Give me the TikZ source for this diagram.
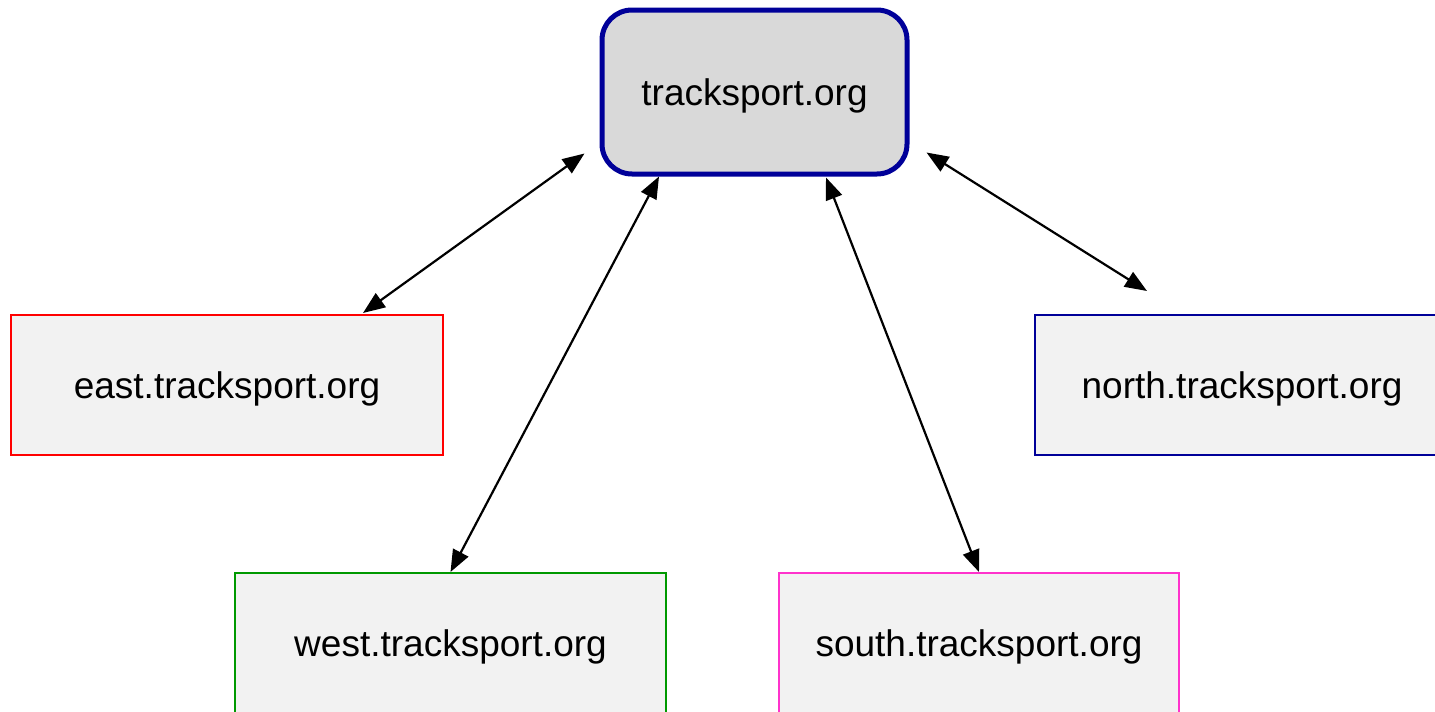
\documentclass[tikz,border=0pt]{standalone}
\usepackage{fontspec}
\setmainfont{Liberation Sans}
\usetikzlibrary{arrows.meta,calc}
\definecolor{hubblue}{HTML}{000099}
\definecolor{hubfill}{HTML}{D9D9D9}
\definecolor{boxfill}{HTML}{F2F2F2}
\definecolor{eastred}{HTML}{FF0000}
\definecolor{northblue}{HTML}{000099}
\definecolor{westgreen}{HTML}{009900}
\definecolor{southpink}{HTML}{FF33CC}
\begin{document}
\begin{tikzpicture}[x=1pt,y=-1pt,
  box/.style={draw, fill=boxfill, line width=2pt, font=\fontsize{37}{44}\selectfont, inner sep=0pt, text depth=0pt, text=black},
  link/.style={{Triangle[length=22pt,width=17pt]}-{Triangle[length=22pt,width=17pt]}, line width=2.2pt, black}]
\useasboundingbox (0,0) rectangle (1435,712);
\clip (0,0) rectangle (1435,712);
\node[box, draw=hubblue, fill=hubfill, line width=5pt, rounded corners=30pt, minimum width=305pt, minimum height=164pt] (hub) at (754.5,92) {tracksport.org};
\node[box, draw=eastred, minimum width=432pt, minimum height=140pt] (east) at (227,385) {east.tracksport.org};
\node[box, draw=northblue, minimum width=414pt, minimum height=140pt] (north) at (1242,385) {north.tracksport.org};
\node[box, draw=westgreen, minimum width=431pt, minimum height=141pt] (west) at (450.5,643.5) {west.tracksport.org};
\node[box, draw=southpink, minimum width=400pt, minimum height=141pt] (south) at (979,643.5) {south.tracksport.org};
\draw[link] ($(hub.south west)+(-15,-23)$) -- ($(east.north)+(136,-1)$);
\draw[link] ($(hub.south)+(-95.5,0)$) -- (west.north);
\draw[link] ($(hub.south)+(71.5,1)$) -- (south.north);
\draw[link] ($(hub.south east)+(17,-24)$) -- ($(north.north)+(-95,-23)$);
\end{tikzpicture}
\end{document}
